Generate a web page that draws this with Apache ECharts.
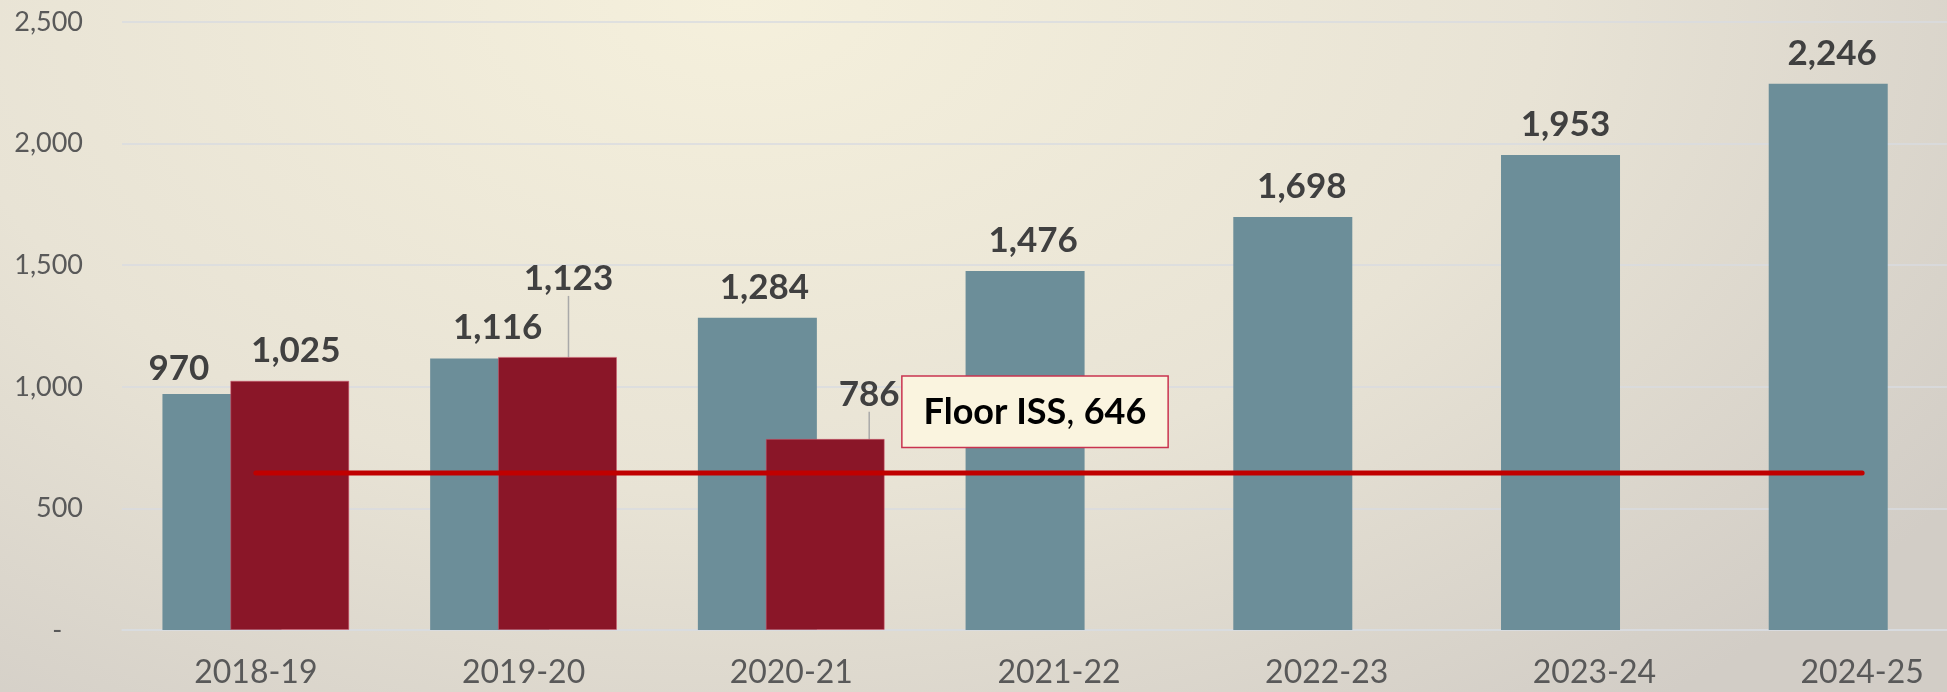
<!DOCTYPE html>
<html>
<head>
<meta charset="utf-8">
<title>ISS chart</title>
<script src="https://cdn.jsdelivr.net/npm/echarts@6/dist/echarts.min.js"></script>
<style>
  html, body { margin: 0; padding: 0; }
  body {
    width: 1947px; height: 692px; overflow: hidden;
    background: radial-gradient(ellipse 75% 130% at 38% 0%, #F5F0DC 0%, #E8E3D5 55%, #D2CDC6 100%);
  }
  #chart { width: 1947px; height: 692px; }
</style>
</head>
<body>
<div id="chart"></div>
<script>
// years on the x axis
const years = ['2018-19', '2019-20', '2020-21', '2021-22', '2022-23', '2023-24', '2024-25'];
// blue bars
const blueValues = [970, 1116, 1284, 1476, 1698, 1953, 2246];
// red bars (only first three years)
const redValues = [1025, 1123, 786, null, null, null, null];
// floor line
const floorValues = [646, 646, 646, 646, 646, 646, 646];
const floorLabel = 'Floor ISS';
const yTicks = [0, 500, 1000, 1500, 2000, 2500];

const fmt = v => v.toLocaleString('en-US');
const FONT = 'Lato, "Open Sans", sans-serif';

const chart = echarts.init(document.getElementById('chart'));

// small label nudges so they sit like in the original
const blueOffsets = [[-43, 5], [8, 0], [7, 0], [8, 0], [9, 0], [5, 0], [4, 0]];
const redOffsets = [[6, 0], [11, -48], [44, -14]];

const blueData = blueValues.map((v, i) => ({
  value: v,
  label: { offset: blueOffsets[i] }
}));

const redData = redValues.map((v, i) => {
  if (v == null) return null;
  const moved = redOffsets[i][1] !== 0;
  return {
    value: v,
    labelLine: { show: moved, lineStyle: { color: '#A9A9A9', width: 1.5 } }
  };
});

const floorData = floorValues.map((v, i) => {
  if (i !== 3) return v;
  return {
    value: v,
    symbol: 'circle',
    symbolSize: 0.1,
    label: {
      show: true,
      position: 'top',
      distance: 26,
      offset: [-24, 0],
      formatter: '{b|' + floorLabel + '}{n|, }{b|' + fmt(v) + '}',
      backgroundColor: '#FAF4DF',
      borderColor: '#C9334F',
      borderWidth: 1.5,
      padding: [17, 21, 15, 21],
      rich: {
        b: { fontFamily: FONT, fontWeight: 'bold', fontSize: 36, color: '#000', lineHeight: 38 },
        n: { fontFamily: FONT, fontWeight: 'normal', fontSize: 36, color: '#000', lineHeight: 38 }
      }
    }
  };
});

const barLabel = {
  show: true,
  position: 'top',
  distance: 13,
  fontFamily: FONT,
  fontWeight: 'bold',
  fontSize: 35,
  color: '#404040',
  formatter: p => fmt(p.value)
};

const option = {
  animation: false,
  backgroundColor: 'transparent',
  grid: {
    left: 122,
    right: -49,
    top: 22,
    bottom: 62,
    containLabel: false,
    outerBoundsMode: 'none'
  },
  xAxis: {
    type: 'category',
    data: years,
    axisTick: { show: false },
    axisLine: { lineStyle: { color: '#D9DBE0', width: 1.5 } },
    axisLabel: {
      margin: 27,
      fontFamily: FONT,
      fontSize: 32,
      color: '#595959'
    }
  },
  yAxis: {
    type: 'value',
    min: yTicks[0],
    max: yTicks[yTicks.length - 1],
    interval: 500,
    axisLine: { show: false },
    axisTick: { show: false },
    splitLine: { lineStyle: { color: '#D9DBE1', width: 1.5 } },
    axisLabel: {
      margin: 39,
      fontFamily: FONT,
      fontSize: 27,
      color: '#595959',
      formatter: v => (v === 0 ? '-   ' : fmt(v))
    }
  },
  series: [
    {
      name: 'Blue',
      type: 'bar',
      data: blueData,
      barWidth: 119,
      barGap: '-43%',
      itemStyle: { color: '#6C8E99' },
      label: barLabel
    },
    {
      name: 'Red',
      type: 'bar',
      data: redData,
      barWidth: 119,
      itemStyle: { color: '#8A1628', borderColor: 'rgba(205,90,110,0.55)', borderWidth: 1 },
      label: barLabel,
      labelLayout: p => {
        const o = redOffsets[p.dataIndex];
        return o ? { dx: o[0], dy: o[1] } : {};
      }
    },
    {
      name: floorLabel,
      type: 'line',
      data: floorData,
      symbol: 'none',
      z: 5,
      lineStyle: { color: '#C00000', width: 5, cap: 'round' },
      itemStyle: { color: '#C00000' }
    }
  ]
};

chart.setOption(option);
</script>
</body>
</html>
